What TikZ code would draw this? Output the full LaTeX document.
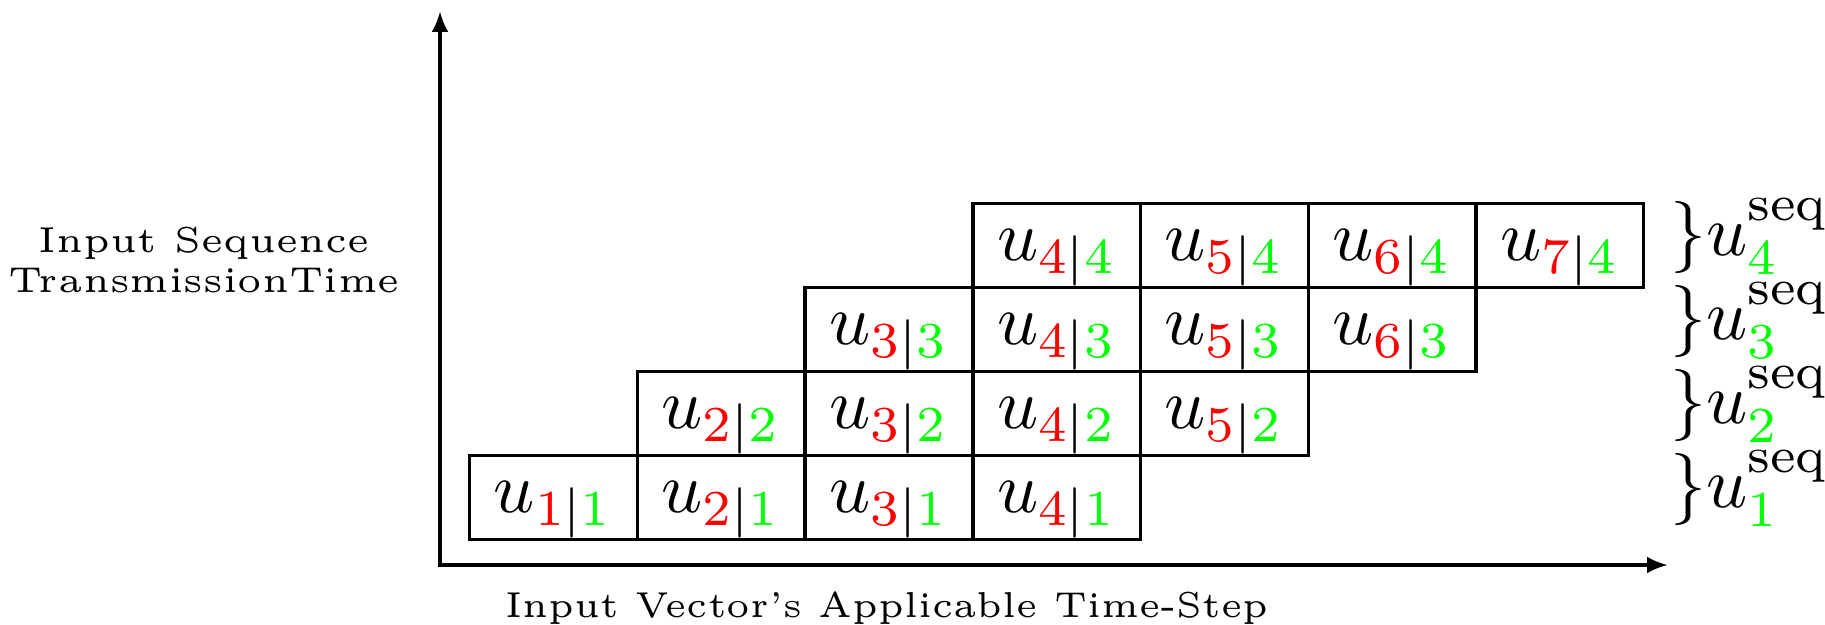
\documentclass[tikz,border=0pt]{standalone}
\usetikzlibrary{arrows.meta}
\definecolor{idxred}{RGB}{255,0,0}
\definecolor{idxgreen}{RGB}{0,255,0}
\newcommand{\Sc}[1]{\scalebox{1.44}{#1}}
\newcommand{\cellu}[2]{\Sc{$u_{\textcolor{idxred}{#1}|\textcolor{idxgreen}{#2}}$}}
\newcommand{\sequ}[1]{\Sc{$\}u^{\mathrm{seq}}_{\textcolor{idxgreen}{#1}}$}}
\newcommand{\tinytext}{\fontsize{5}{5.55}\selectfont}
\begin{document}
\begin{tikzpicture}[x=0.2pt,y=-0.2pt,
  cellbox/.style={draw, line width=0.68pt, minimum width=33.54pt, minimum height=16.8pt,
    inner sep=0pt, anchor=north west, text height=6pt, text depth=0pt},
  seqlabel/.style={anchor=base west, inner sep=0pt},
  axislabel/.style={anchor=base, inner sep=0pt, font=\tinytext},
  axisline/.style={line width=0.8pt, {Latex[length=4.2pt,width=3.4pt]}-{Latex[length=4.2pt,width=3.4pt]}}]
\useasboundingbox (0,0) rectangle (1825,625);
% axes
\coordinate (ytip) at (440,11);
\coordinate (origin) at (440,565);
\coordinate (xtip) at (1668,565);
\draw[axisline] (ytip) -- (origin) -- (xtip);
% cells
\foreach \j in {1,...,4} {
  \foreach \k in {0,...,3} {
    \pgfmathtruncatemacro{\i}{\j+\k}
    \node[cellbox] (c\i\j) at ({468+(\i-1)*167.7},{538-84*\j}) {\cellu{\i}{\j}};
  }
  \node[seqlabel] (s\j) at (1669,{538-84*\j+42+11.5}) {\sequ{\j}};
}
% axis labels
\node[axislabel] (ylab) at (204,253) {\Sc{\tinytext\begin{tabular}[t]{@{}c@{}}Input Sequence\\TransmissionTime\end{tabular}}};
\node[axislabel] (xlab) at (887,617) {\scalebox{1.385}[1.44]{\tinytext Input Vector’s Applicable Time-Step}};
\end{tikzpicture}
\end{document}
